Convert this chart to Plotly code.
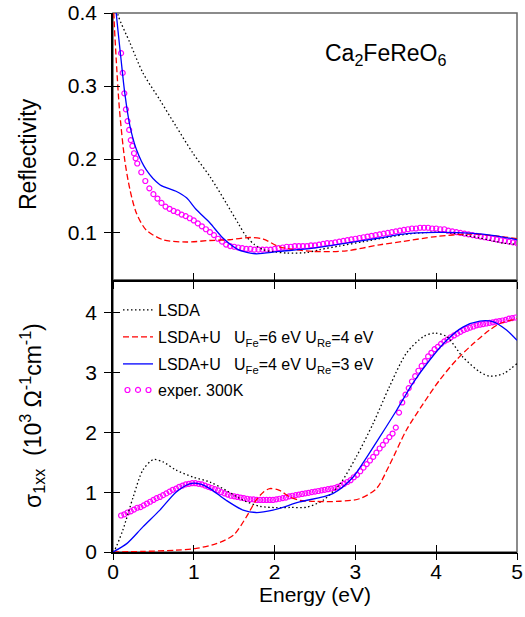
import numpy as np
import plotly.graph_objects as go

FONT = "Liberation Sans, Arial, Helvetica, sans-serif"

# ---------------- Reflectivity (upper panel) ----------------
# LSDA
e_r_lsda = [0.03, 0.06, 0.21, 0.37, 0.58, 0.78, 0.99, 1.20, 1.40, 1.55, 1.65, 1.75,
            1.86, 2.00, 2.15, 2.39, 2.56, 2.80, 3.10, 3.40, 3.70, 4.00, 4.17, 4.54,
            4.83, 5.00]
r_lsda = [0.420, 0.398, 0.359, 0.318, 0.281, 0.245, 0.208, 0.176, 0.140, 0.112, 0.094,
          0.083, 0.076, 0.073, 0.0714, 0.072, 0.076, 0.081, 0.087, 0.093, 0.098, 0.100,
          0.099, 0.092, 0.085, 0.0835]

# LSDA+U, U_Fe=6 eV, U_Re=4 eV
e_r_u6 = [0.00, 0.01, 0.04, 0.08, 0.145, 0.21, 0.29, 0.41, 0.62, 0.91, 1.20, 1.44,
          1.69, 1.86, 2.06, 2.48, 2.89, 3.30, 3.59, 4.00, 4.41, 4.74, 5.00]
r_u6 = [0.450, 0.400, 0.336, 0.268, 0.199, 0.158, 0.126, 0.103, 0.0896, 0.0865, 0.0886,
        0.0896, 0.0927, 0.0906, 0.080, 0.0736, 0.0745, 0.0827, 0.0873, 0.094, 0.0974,
        0.095, 0.091]

# LSDA+U, U_Fe=4 eV, U_Re=3 eV
e_r_u4 = [0.02, 0.04, 0.10, 0.145, 0.21, 0.29, 0.41, 0.58, 0.78, 0.91, 1.03, 1.20,
          1.36, 1.55, 1.61, 1.77, 2.06, 2.48, 2.89, 3.30, 3.59, 4.00, 4.41, 4.74, 5.00]
r_u4 = [0.430, 0.400, 0.336, 0.291, 0.245, 0.213, 0.1855, 0.165, 0.156, 0.147, 0.131,
        0.1125, 0.092, 0.076, 0.0736, 0.0704, 0.0736, 0.078, 0.085, 0.092, 0.0974,
        0.0996, 0.0988, 0.095, 0.0896]

# measured reflectivity, 300 K
e_r_exp = np.round(np.concatenate([0.10 + 0.02 * np.arange(11),
                                   0.35 + 0.05 * np.arange(94)]), 3)
r_exp = [0.345, 0.318, 0.290, 0.268, 0.252, 0.240, 0.226, 0.218, 0.208, 0.201, 0.194,
         0.182, 0.170, 0.160, 0.152, 0.146, 0.140, 0.135, 0.132, 0.129, 0.127,
         0.124, 0.122, 0.119, 0.116, 0.112, 0.108, 0.104, 0.100, 0.096, 0.091,
         0.087, 0.083, 0.081, 0.080, 0.079, 0.078, 0.077, 0.077, 0.076, 0.076,
         0.076, 0.076, 0.076, 0.077, 0.078, 0.079, 0.080, 0.080, 0.081, 0.081,
         0.081, 0.081, 0.082, 0.082, 0.083, 0.084, 0.085, 0.085, 0.086, 0.087,
         0.088, 0.089, 0.090, 0.091, 0.092, 0.093, 0.094, 0.095, 0.096, 0.097,
         0.098, 0.099, 0.100, 0.101, 0.102, 0.103, 0.104, 0.105, 0.105, 0.106,
         0.106, 0.106, 0.105, 0.105, 0.104, 0.104, 0.102, 0.101, 0.100, 0.099,
         0.098, 0.097, 0.096, 0.095, 0.094, 0.093, 0.092, 0.091, 0.090, 0.089,
         0.088, 0.087, 0.086, 0.085]

# ---------------- Optical conductivity (lower panel) ----------------
e_s_lsda = [0.00, 0.02, 0.12, 0.25, 0.37, 0.50, 0.62, 0.78, 0.99, 1.20, 1.40, 1.61,
            1.82, 2.02, 2.20, 2.40, 2.60, 2.81, 3.01, 3.22, 3.42, 3.63, 3.84, 3.98,
            4.13, 4.33, 4.54, 4.66, 4.83, 5.00]
s_lsda = [0.0, 0.03, 0.36, 0.92, 1.37, 1.545, 1.505, 1.37, 1.254, 1.17, 1.03, 0.865,
          0.764, 0.742, 0.745, 0.75, 0.865, 1.14, 1.59, 2.15, 2.76, 3.32, 3.60, 3.66,
          3.60, 3.26, 3.01, 2.94, 2.98, 3.15]

e_s_u6 = [0.00, 0.37, 0.78, 1.03, 1.28, 1.49, 1.65, 1.77, 1.86, 1.94, 2.06, 2.19,
          2.31, 2.50, 2.81, 3.05, 3.26, 3.42, 3.63, 3.84, 4.04, 4.25, 4.46, 4.66,
          4.79, 5.00]
s_u6 = [0.0, 0.01, 0.03, 0.06, 0.14, 0.28, 0.585, 0.865, 1.0, 1.06, 1.03, 0.92,
        0.865, 0.845, 0.848, 0.89, 1.06, 1.45, 2.035, 2.48, 2.87, 3.21, 3.485, 3.71,
        3.82, 3.90]

e_s_u4 = [0.00, 0.17, 0.37, 0.58, 0.78, 0.95, 1.07, 1.20, 1.40, 1.61, 1.77, 1.98,
          2.31, 2.72, 2.97, 3.09, 3.30, 3.51, 3.71, 3.92, 4.13, 4.33, 4.54, 4.70,
          4.87, 5.00]
s_u4 = [0.0, 0.14, 0.42, 0.70, 1.0, 1.14, 1.14, 1.06, 0.865, 0.70, 0.66, 0.70,
        0.836, 0.976, 1.25, 1.48, 1.92, 2.37, 2.82, 3.21, 3.54, 3.76, 3.86, 3.85,
        3.71, 3.54]

e_s_exp = np.round(0.10 + 0.04 * np.arange(123), 2)
s_exp = [0.61, 0.63, 0.66, 0.68, 0.71, 0.74, 0.75, 0.78, 0.81, 0.84, 0.87, 0.90,
         0.92, 0.95, 0.98, 1.01, 1.04, 1.06, 1.09, 1.11, 1.13, 1.14, 1.15, 1.15,
         1.14, 1.13, 1.11, 1.09, 1.07, 1.05, 1.03, 1.00, 0.98, 0.96, 0.94, 0.93,
         0.92, 0.91, 0.90, 0.89, 0.88, 0.88, 0.87, 0.87, 0.87, 0.87, 0.87, 0.87,
         0.88, 0.89, 0.90, 0.91, 0.93, 0.94, 0.95, 0.96, 0.97, 0.98, 0.99, 1.00,
         1.01, 1.02, 1.03, 1.04, 1.05, 1.06, 1.07, 1.09, 1.11, 1.14, 1.17, 1.20,
         1.25, 1.29, 1.35, 1.41, 1.47, 1.53, 1.59, 1.66, 1.73, 1.79, 1.86, 1.92,
         1.98, 2.08, 2.33, 2.50, 2.63, 2.74, 2.85, 2.94, 3.03, 3.11, 3.19, 3.27,
         3.33, 3.39, 3.43, 3.48, 3.52, 3.55, 3.59, 3.62, 3.65, 3.68, 3.71, 3.73,
         3.75, 3.77, 3.79, 3.80, 3.81, 3.82, 3.83, 3.84, 3.85, 3.86, 3.87, 3.88,
         3.90, 3.91, 3.92]

x_ticks = [0, 1, 2, 3, 4, 5]
r_ticks = [0.1, 0.2, 0.3, 0.4]
r_labels = ["0.1", "0.2", "0.3", "0.4"]
s_ticks = [0, 1, 2, 3, 4]

names = [
    "LSDA",
    "LSDA+U\u00a0\u00a0\u00a0U<sub>Fe</sub>=6 eV U<sub>Re</sub>=4 eV",
    "LSDA+U\u00a0\u00a0\u00a0U<sub>Fe</sub>=4 eV U<sub>Re</sub>=3 eV",
    "exper. 300K",
]

MAGENTA = "#ff00ff"
LW = 1.3
MARKER = dict(symbol="circle-open", size=5, color=MAGENTA,
              line=dict(width=1.2, color=MAGENTA))
styles = [
    dict(color="black", width=LW, dash="1.5px,2.5px"),
    dict(color="#ff0000", width=LW, dash="6px,3px"),
    dict(color="#0000ff", width=LW),
]

# figure geometry (pixels)
W, H = 525, 617
ML, MR, MT, MB = 113, 8, 13, 65
PW, PH = W - ML - MR, H - MT - MB
SPLIT_PX = 280                       # border between the two panels
split = (H - MB - SPLIT_PX) / PH


def px_x(x):
    return (x - ML) / PW


def px_y(y):
    return (H - MB - y) / PH


# one single-entry legend per row, stacked inside the lower panel
legend_ids = ["legend", "legend2", "legend3", "legend4"]

fig = go.Figure()

# measured points (drawn first, lines on top)
fig.add_trace(go.Scatter(x=e_r_exp, y=r_exp, mode="markers", xaxis="x", yaxis="y",
                         marker=MARKER, showlegend=False))
fig.add_trace(go.Scatter(x=e_s_exp, y=s_exp, mode="markers", xaxis="x2", yaxis="y2",
                         name=names[3], legend=legend_ids[3], marker=MARKER))

upper = [(e_r_lsda, r_lsda), (e_r_u6, r_u6), (e_r_u4, r_u4)]
lower = [(e_s_lsda, s_lsda), (e_s_u6, s_u6), (e_s_u4, s_u4)]
for i, ((xu, yu), (xl, yl)) in enumerate(zip(upper, lower)):
    fig.add_trace(go.Scatter(x=xu, y=yu, mode="lines", xaxis="x", yaxis="y",
                             line=dict(shape="spline", smoothing=0.8, **styles[i]),
                             showlegend=False))
    fig.add_trace(go.Scatter(x=xl, y=yl, mode="lines", xaxis="x2", yaxis="y2",
                             name=names[i], legend=legend_ids[i],
                             line=dict(shape="spline", smoothing=0.8, **styles[i])))

# empty traces so that the tick overlay axes are built
for xa, ya in [("x3", "y3"), ("x4", "y4")]:
    fig.add_trace(go.Scatter(x=[], y=[], xaxis=xa, yaxis=ya, showlegend=False,
                             hoverinfo="skip"))

R_RANGE = [0.0345, 0.4]
S_RANGE = [0, 4.547]

tickfont = dict(family=FONT, size=21, color="black")
base = dict(showgrid=False, zeroline=False, automargin=False, tickwidth=1.2,
            tickcolor="black", ticklen=7)
axis_main = dict(showline=True, linecolor="black", linewidth=1.5, tickfont=tickfont,
                 **base)
axis_extra = dict(showline=False, showticklabels=False, **base)

# vertical centres of the legend rows (px from top)
legend_rows = [308, 335, 362, 388]
HALF_BOX = 17                        # half height of a one-entry legend box
legend_common = dict(x=px_x(118), xanchor="left",
                     bgcolor="rgba(0,0,0,0)", borderwidth=0, itemwidth=30,
                     font=dict(family=FONT, size=16, color="black"))
# first box is anchored by its bottom edge, the others by their middle
legend_pos = [dict(y=px_y(legend_rows[0] + 2 + HALF_BOX), yanchor="bottom")]
legend_pos += [dict(y=px_y(r + 2), yanchor="middle") for r in legend_rows[1:]]

fig.update_layout(
    width=W, height=H,
    margin=dict(l=ML, r=MR, t=MT, b=MB),
    paper_bgcolor="white", plot_bgcolor="rgba(0,0,0,0)",
    font=dict(family=FONT, size=16, color="black"),
    xaxis=dict(domain=[0, 1], anchor="y", range=[0, 5], tickvals=x_ticks,
               showticklabels=False, ticks="outside", **axis_main),
    yaxis=dict(domain=[split, 1], anchor="x", range=R_RANGE, tickvals=r_ticks,
               ticktext=r_labels, ticks="outside", ticklabelstandoff=3, **axis_main),
    xaxis2=dict(domain=[0, 1], anchor="y2", range=[0, 5], tickvals=x_ticks,
                ticktext=[str(v) for v in x_ticks], ticks="inside", **axis_main),
    yaxis2=dict(domain=[0, split], anchor="x2", range=S_RANGE, tickvals=s_ticks,
                ticktext=[str(v) for v in s_ticks], ticks="outside",
                ticklabelstandoff=3, **axis_main),
    xaxis3=dict(overlaying="x", anchor="y", range=[0, 5], tickvals=x_ticks,
                ticks="inside", **axis_extra),
    yaxis3=dict(overlaying="y", anchor="x", range=R_RANGE, tickvals=r_ticks,
                ticks="inside", **axis_extra),
    xaxis4=dict(overlaying="x2", anchor="y2", range=[0, 5], tickvals=x_ticks,
                ticks="outside", **axis_extra),
    yaxis4=dict(overlaying="y2", anchor="x2", range=S_RANGE, tickvals=s_ticks,
                ticks="inside", **axis_extra),
    showlegend=True,
)
fig.update_layout({lid: dict(**pos, **legend_common)
                   for lid, pos in zip(legend_ids, legend_pos)})

# extra open circles beside the measured-data legend key
for dx in (-10.5, 10.5):
    fig.add_shape(type="circle", xref="paper", yref="paper",
                  xsizemode="pixel", ysizemode="pixel",
                  xanchor=px_x(138 + dx), yanchor=px_y(legend_rows[3] + 2),
                  x0=-2.5, x1=2.5, y0=-2.5, y1=2.5,
                  line=dict(color=MAGENTA, width=1.2))

# frames of both panels
for xr, yr in [("x domain", "y domain"), ("x2 domain", "y2 domain")]:
    fig.add_shape(type="rect", xref=xr, yref=yr, x0=0, x1=1, y0=0, y1=1,
                  line=dict(color="#666666", width=1.5), layer="below")

# text labels
fig.add_annotation(text="Ca<sub>2</sub>FeReO<sub>6</sub>", xref="paper", yref="paper",
                   x=px_x(386), y=px_y(54), xanchor="center", yanchor="middle",
                   showarrow=False, font=dict(family=FONT, size=23))
fig.add_annotation(text="Reflectivity", xref="paper", yref="paper", textangle=-90,
                   x=px_x(28), y=px_y(154), xanchor="center", yanchor="middle",
                   showarrow=False, font=dict(family=FONT, size=23))
fig.add_annotation(text="σ<sub>1xx</sub>\u00a0\u00a0(10<sup>3</sup> Ω<sup>-1</sup>cm<sup>-1</sup>)",
                   xref="paper", yref="paper", textangle=-90,
                   x=px_x(32), y=px_y(416), xanchor="center", yanchor="middle",
                   showarrow=False, font=dict(family=FONT, size=23))
fig.add_annotation(text="Energy (eV)", xref="paper", yref="paper",
                   x=0.5, y=px_y(594), xanchor="center", yanchor="middle",
                   showarrow=False, font=dict(family=FONT, size=21))

fig.write_html("out.html")
